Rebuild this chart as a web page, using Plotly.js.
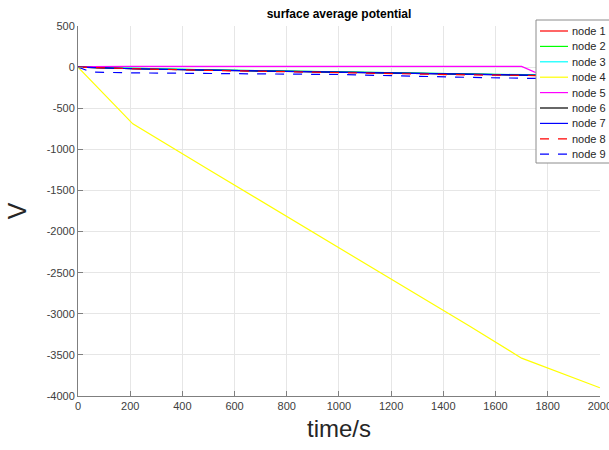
<!DOCTYPE html>
<html>
<head>
<meta charset="utf-8">
<script src="https://cdn.plot.ly/plotly-3.0.1.min.js"></script>
<style>html,body{margin:0;padding:0;background:#fff;}#chart{width:609px;height:450px;}</style>
</head>
<body>
<div id="chart"></div>
<script>
var time = [0, 50, 210, 500, 1000, 1500, 1700, 1750, 2000];
var node1 = [0, -5, -18, -35, -60, -85, -95, -100, -110];
var node2 = [0, -4, -17, -34, -58, -83, -93, -98, -108];
var node3 = [0, -4, -16, -33, -57, -82, -92, -97, -107];
var node4 = [0, -165, -690, -1245, -2195, -3150, -3540, -3600, -3900];
var node5 = [0, 6, 8, 8, 8, 8, 8, -60, -75];
var node6 = [0, -6, -20, -37, -62, -88, -98, -103, -113];
var node7 = [0, -6, -20, -37, -62, -88, -98, -103, -113];
var node8 = [0, -6, -20, -40, -70, -95, -100, -104, -112];
var node9 = [0, -60, -70, -75, -90, -125, -135, -140, -150];

var names = ['node 1','node 2','node 3','node 4','node 5','node 6','node 7','node 8','node 9'];
var series = [node1, node2, node3, node4, node5, node6, node7, node8, node9];
var colors = ['#ff0000','#00ff00','#00ffff','#ffff00','#ff00ff','#000000','#0000ff','#ff0000','#0000ff'];
var dashes = ['solid','solid','solid','solid','solid','solid','solid','dash','dash'];
var xTicks = [0,200,400,600,800,1000,1200,1400,1600,1800,2000];
var yTicks = [500,0,-500,-1000,-1500,-2000,-2500,-3000,-3500,-4000];

var traces = series.map(function(v, i){
  return {x: time, y: v, type: 'scatter', mode: 'lines', name: names[i],
          line: {color: colors[i], width: 1.2, dash: dashes[i]}, showlegend: false, cliponaxis: true};
});

// custom MATLAB-style legend (paper coordinates)
var L = 78, W = 522, T = 26, H = 370;
function px(p){ return (p - L) / W; }
function py(p){ return (T + H - p) / H; }
var shapes = [{type:'rect', xref:'paper', yref:'paper', x0:px(536), x1:px(612), y0:py(163), y1:py(20),
  line:{color:'#8c8c8c', width:1}, fillcolor:'#ffffff', layer:'above'}];
var annotations = [];
names.forEach(function(n, i){
  var yy = 31 + 15.4 * i;
  shapes.push({type:'line', xref:'paper', yref:'paper', x0:px(540), x1:px(568), y0:py(yy), y1:py(yy),
    line:{color:colors[i], width:1.2, dash:dashes[i]}, layer:'above'});
  annotations.push({xref:'paper', yref:'paper', x:px(570), y:py(yy), xanchor:'left', yanchor:'middle',
    text:n, showarrow:false, font:{family:'Arial, Liberation Sans', size:11, color:'#262626'}});
});

var layout = {
  width: 609, height: 450,
  margin: {l: L, r: 609 - L - W, t: T, b: 450 - T - H},
  paper_bgcolor: '#ffffff', plot_bgcolor: '#ffffff',
  title: {text: '<b>surface average potential</b>', x: 0.5, xref: 'paper', y: 1 - 14/450, yref: 'container', yanchor: 'middle',
          font: {family: 'Arial, Liberation Sans', size: 12, color: '#000000'}},
  xaxis: {range: [0, 2000.5], tickvals: xTicks, ticktext: xTicks.map(String), showgrid: true, gridcolor: '#e6e6e6',
          zeroline: false, showline: true, linecolor: '#7f7f7f', linewidth: 1, ticks: 'inside', ticklen: 5,
          tickcolor: '#7f7f7f', tickfont: {family: 'Arial, Liberation Sans', size: 11, color: '#404040'},
          ticklabeloverflow: 'allow',
          title: {text: 'time/s', font: {family: 'Arial, Liberation Sans', size: 24, color: '#262626'}, standoff: 8},
          automargin: false},
  yaxis: {range: [-4000, 500], tickvals: yTicks, ticktext: yTicks.map(String), showgrid: true, gridcolor: '#e6e6e6',
          zeroline: false, showline: true, linecolor: '#7f7f7f', linewidth: 1, ticks: 'inside', ticklen: 5,
          tickcolor: '#7f7f7f', tickfont: {family: 'Arial, Liberation Sans', size: 11, color: '#404040'},
          ticklabeloverflow: 'allow',
          title: {text: 'V', font: {family: 'Arial, Liberation Sans', size: 25, color: '#262626'}, standoff: 12},
          automargin: false},
  shapes: shapes,
  annotations: annotations,
  showlegend: false
};
Plotly.newPlot('chart', traces, layout, {displayModeBar: false, staticPlot: true});
</script>
</body>
</html>
